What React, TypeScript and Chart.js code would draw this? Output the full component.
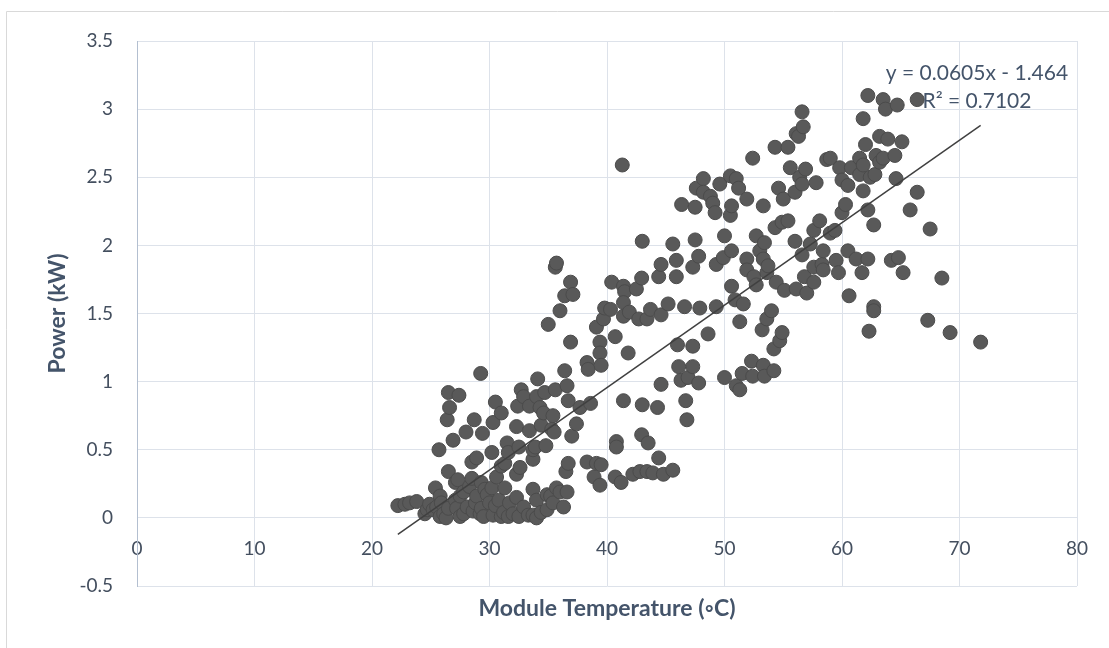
import React, { useEffect, useRef } from "react";
import { Chart, registerables } from "chart.js";

Chart.register(...registerables);

// Module temperature (°C) and power (kW)
const moduleTemp: number[] = [
  22.2, 22.8, 23.2, 23.8, 24.5, 24.7, 24.9, 25.2, 25.4, 25.5, 25.8, 25.8, 25.9, 26.1, 26.3, 26.5, 26.5, 27.1, 27.1, 27.2,
  27.3, 27.5, 27.5, 27.8, 27.8, 28.1, 28.3, 28.5, 28.6, 28.8, 28.9, 29.2, 29.3, 29.3, 29.5, 29.6, 29.8, 30.0, 30.2, 30.3,
  30.5, 30.6, 30.8, 31.0, 31.2, 31.3, 31.6, 31.7, 32.0, 32.3, 32.5, 32.9, 33.3, 33.7, 33.7, 34.0, 34.0, 34.4, 34.9, 34.9,
  35.2, 35.4, 35.7, 36.0, 36.3, 36.6,
  25.7, 26.4, 26.5, 26.6, 26.9, 27.4, 28.0, 28.5, 28.7, 28.9, 29.25, 29.4, 30.2, 30.3, 30.5, 31.0, 31.0, 31.3, 31.5, 31.6,
  32.3, 32.3, 32.4, 32.5, 32.6, 32.7, 32.9, 33.4, 33.4, 33.7, 33.7, 33.9, 34.0, 34.1, 34.3, 34.4, 34.6, 34.7, 34.8, 35.3,
  35.4, 35.5, 35.6, 36.4, 36.5, 36.6, 36.7, 36.7, 37.0, 37.4, 37.7, 38.6, 38.3, 38.9, 39.1, 39.4, 39.5,
  35.0, 35.6, 35.7, 36.0, 36.4, 36.9, 36.9, 37.1, 38.3, 38.4, 39.1, 39.4, 39.4, 39.5, 39.7, 39.8, 40.3, 40.4, 40.7, 41.3,
  41.4, 41.5, 41.4, 41.4, 41.8, 41.9,
  40.7, 40.8, 40.8, 41.2, 41.4, 42.2, 42.8, 42.95, 43.0, 43.4, 43.5, 43.9, 44.3, 44.4, 44.6, 44.8, 45.6, 46.0, 46.1, 46.3,
  46.7, 46.8, 46.9, 47.3, 47.3, 47.8, 48.6,
  42.5, 42.7, 42.95, 43.0, 43.4, 43.7, 44.4, 44.6, 44.6, 45.2, 45.6, 45.9, 45.9, 46.35, 46.6, 47.3, 47.5, 47.5, 47.6, 47.8,
  47.9, 48.2, 48.2, 48.8, 49.0, 49.2, 49.3, 49.3, 49.6, 49.9, 50.0,
  50.0, 50.6, 50.9, 51.0, 51.3, 51.3, 51.5, 51.6, 52.3, 52.4, 53.2, 53.3, 53.4, 53.6, 54.0, 54.2, 54.2, 54.7, 54.9,
  50.5, 50.5, 50.6, 50.6, 51.0, 51.2, 51.9, 51.9, 51.9, 52.4, 52.5, 52.7, 52.7, 53.0, 53.3, 53.3, 53.4, 53.6, 53.7, 54.3,
  54.3, 54.4, 54.6, 54.9, 55.0, 55.1, 55.4, 55.4, 55.6, 56.0, 56.0, 56.1, 56.1, 56.3, 56.4, 56.6, 56.6, 56.6, 56.7, 56.8,
  56.9, 57.0,
  57.3, 57.6, 57.6, 57.6, 57.8, 58.1, 58.3, 58.4, 58.4, 58.7, 59.0, 59.0, 59.4, 59.5, 59.7, 59.8, 60.0, 60.0, 60.3, 60.5,
  60.5, 60.6, 60.8, 61.2, 61.5, 61.5, 61.7, 61.8, 61.8, 61.8, 62.0, 62.2, 62.2, 62.2, 62.3, 62.4, 62.7, 62.7, 62.7, 62.8,
  62.9, 63.2, 63.2, 63.5, 63.5, 63.7, 63.9, 64.2, 64.5, 64.6, 64.7, 64.8, 65.1, 65.2, 65.8, 66.4, 66.4, 67.3, 67.5, 68.5,
  69.2, 71.8,
];

const power: number[] = [
  0.09, 0.10, 0.11, 0.12, 0.03, 0.06, 0.10, 0.06, 0.22, 0.08, 0.01, 0.16, 0.11, 0.03, 0.00, 0.07, 0.34, 0.13, 0.26, 0.07,
  0.28, 0.01, 0.16, 0.03, 0.19, 0.08, 0.23, 0.29, 0.05, 0.11, 0.16, 0.03, 0.07, 0.26, 0.01, 0.21, 0.17, 0.11, 0.22, 0.02,
  0.09, 0.30, 0.13, 0.01, 0.04, 0.22, 0.01, 0.11, 0.03, 0.15, 0.01, 0.08, 0.02, 0.02, 0.21, 0.00, 0.13, 0.04, 0.06, 0.17,
  0.16, 0.11, 0.22, 0.19, 0.08, 0.19,
  0.50, 0.72, 0.92, 0.81, 0.57, 0.90, 0.63, 0.41, 0.72, 0.44, 1.06, 0.62, 0.48, 0.70, 0.85, 0.77, 0.38, 0.40, 0.55, 0.48,
  0.67, 0.32, 0.82, 0.52, 0.37, 0.94, 0.89, 0.82, 0.64, 0.43, 0.50, 0.52, 0.89, 1.02, 0.81, 0.68, 0.77, 0.92, 0.53, 0.65,
  0.75, 0.63, 0.94, 1.08, 0.34, 0.97, 0.86, 0.40, 0.60, 0.69, 0.81, 0.84, 0.41, 0.30, 0.40, 0.24, 0.39,
  1.42, 1.84, 1.87, 1.52, 1.63, 1.73, 1.29, 1.64, 1.14, 1.09, 1.40, 1.29, 1.21, 1.12, 1.46, 1.54, 1.53, 1.73, 1.33, 2.59,
  1.70, 1.66, 1.58, 1.48, 1.21, 1.51,
  0.30, 0.56, 0.52, 0.26, 0.86, 0.32, 0.34, 0.61, 0.83, 0.34, 0.55, 0.33, 0.81, 0.44, 0.98, 0.32, 0.35, 1.27, 1.11, 1.01,
  0.86, 0.72, 1.03, 1.11, 1.26, 0.99, 1.35,
  1.68, 1.46, 1.76, 2.03, 1.46, 1.53, 1.77, 1.86, 1.49, 1.57, 2.01, 1.89, 1.77, 2.30, 1.55, 1.84, 2.04, 2.28, 2.42, 1.92,
  1.54, 2.49, 2.39, 2.36, 2.31, 2.24, 1.55, 1.86, 2.45, 1.91, 2.07,
  1.03, 1.70, 1.60, 0.97, 0.94, 1.44, 1.06, 1.57, 1.15, 1.04, 1.38, 1.12, 1.04, 1.46, 1.52, 1.08, 1.24, 1.30, 1.36,
  2.51, 2.22, 2.29, 1.96, 2.49, 2.42, 2.34, 1.90, 1.82, 2.64, 1.77, 1.71, 2.07, 1.96, 2.29, 1.90, 2.02, 1.80, 1.85, 2.72,
  2.13, 1.73, 2.42, 2.17, 2.34, 1.67, 2.18, 2.72, 2.57, 2.03, 2.39, 2.82, 1.68, 2.80, 2.50, 2.98, 2.45, 1.93, 2.87, 1.77,
  2.56, 1.65,
  2.01, 2.11, 1.84, 1.73, 2.46, 2.18, 1.86, 1.96, 1.82, 2.63, 2.64, 2.09, 2.11, 1.89, 1.80, 2.57, 2.48, 2.24, 2.30, 2.44,
  1.96, 1.63, 2.57, 1.90, 2.64, 2.52, 1.80, 2.93, 2.59, 2.40, 2.74, 3.10, 2.26, 1.90, 1.37, 2.50, 2.15, 1.55, 1.52, 2.52,
  2.66, 2.80, 2.61, 3.07, 2.64, 3.00, 2.78, 1.89, 2.66, 2.49, 3.03, 1.91, 2.76, 1.80, 2.26, 3.07, 2.39, 1.45, 2.12, 1.76,
  1.36, 1.29,
];

// Linear trendline reported by the spreadsheet
const trendSlope = 0.0605;
const trendIntercept = -1.464;
const trendR2 = 0.7102;

const xTicks = { min: 0, max: 80, step: 10 };
const yTicks = { min: -0.5, max: 3.5, step: 0.5 };
const xTitle = "Module Temperature (\u25E6C)";
const yTitle = "Power (kW)";

const FONT = "Lato, 'Open Sans', sans-serif";
const TICK_COLOR = "#444f5f";
const TITLE_COLOR = "#44546A";
const GRID = "#dde2ea";

export default function App() {
  const canvasRef = useRef<HTMLCanvasElement | null>(null);

  useEffect(() => {
    const canvas = canvasRef.current;
    if (!canvas) return;

    const points = moduleTemp.map((x, i) => ({ x, y: power[i] }));
    const xMin = Math.min(...moduleTemp);
    const xMax = Math.max(...moduleTemp);
    const trend = [
      { x: xMin, y: trendSlope * xMin + trendIntercept },
      { x: xMax, y: trendSlope * xMax + trendIntercept },
    ];
    const eqText = `y = ${trendSlope}x ${trendIntercept < 0 ? "-" : "+"} ${Math.abs(trendIntercept)}`;
    const r2Text = `R\u00B2 = ${trendR2}`;

    const framePlugin = {
      id: "frame",
      beforeDraw(chart: any) {
        const ctx = chart.ctx;
        ctx.save();
        ctx.strokeStyle = "#d9d9d9";
        ctx.lineWidth = 1;
        ctx.beginPath();
        ctx.moveTo(6.5, 648);
        ctx.lineTo(6.5, 11.5);
        ctx.lineTo(1109, 11.5);
        ctx.stroke();
        ctx.restore();
      },
    };

    const labelPlugin = {
      id: "trendLabel",
      afterDatasetsDraw(chart: any) {
        const { ctx, chartArea } = chart;
        ctx.save();
        ctx.font = `21px ${FONT}`;
        ctx.fillStyle = TITLE_COLOR;
        ctx.textAlign = "center";
        ctx.textBaseline = "middle";
        const cx = chartArea.right - 100;
        ctx.fillText(eqText, cx, chartArea.top + 32);
        ctx.fillText(r2Text, cx, chartArea.top + 60);
        ctx.restore();
      },
    };

    const fmt = (v: any) => String(Number(v));

    const chart = new Chart(canvas, {
      type: "scatter",
      data: {
        datasets: [
          {
            type: "line",
            label: "Trendline",
            data: trend,
            borderColor: "#404040",
            borderWidth: 1.5,
            pointRadius: 0,
            fill: false,
            order: 0,
          } as any,
          {
            type: "scatter",
            label: "Power",
            data: points,
            pointRadius: 7,
            pointBorderWidth: 1,
            backgroundColor: "#595959",
            borderColor: "#4b4b4b",
            order: 1,
          },
        ],
      },
      options: {
        animation: false,
        responsive: false,
        layout: { padding: { left: 0, right: 32, top: 41, bottom: 0 } },
        plugins: {
          legend: { display: false },
          tooltip: { enabled: false },
        },
        scales: {
          x: {
            type: "linear",
            position: "bottom",
            min: xTicks.min,
            max: xTicks.max,
            ticks: { display: false, stepSize: xTicks.step },
            grid: { color: GRID, lineWidth: 1, drawTicks: false },
            border: { display: false },
            title: {
              display: true,
              text: xTitle,
              color: TITLE_COLOR,
              font: { family: FONT, size: 23, weight: "bold" },
              padding: { top: 0, bottom: 26 },
            },
            afterFit(scale: any) {
              scale.height = 62;
            },
          },
          x2: {
            type: "linear",
            position: { y: 0 },
            min: xTicks.min,
            max: xTicks.max,
            ticks: {
              stepSize: xTicks.step,
              padding: 20,
              color: TICK_COLOR,
              font: { family: FONT, size: 19 },
              maxRotation: 0,
              callback: fmt,
            },
            grid: { display: false, drawTicks: false },
            border: { display: false },
            afterFit(scale: any) {
              scale.height = 0;
            },
          } as any,
          y: {
            type: "linear",
            position: "left",
            min: yTicks.min,
            max: yTicks.max,
            ticks: {
              stepSize: yTicks.step,
              padding: 24,
              color: TICK_COLOR,
              font: { family: FONT, size: 19 },
              callback: fmt,
            },
            grid: { color: GRID, lineWidth: 1, drawTicks: false },
            border: { display: true, color: "#b3bfd0", width: 1 },
            title: {
              display: true,
              text: yTitle,
              color: TITLE_COLOR,
              font: { family: FONT, size: 23, weight: "bold" },
              padding: { top: 44, bottom: 0 },
            },
            afterFit(scale: any) {
              scale.width = 137;
            },
          },
        },
      },
      plugins: [framePlugin, labelPlugin],
    });

    return () => chart.destroy();
  }, []);

  return (
    <div style={{ position: "absolute", left: 0, top: 0, width: 1109, height: 648, background: "#fff" }}>
      <canvas ref={canvasRef} width={1109} height={648} style={{ display: "block" }} />
    </div>
  );
}
